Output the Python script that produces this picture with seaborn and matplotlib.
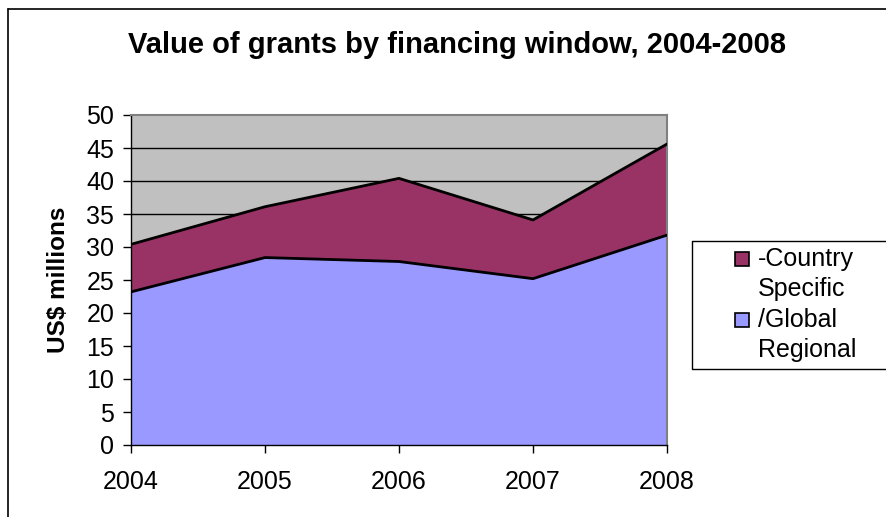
import matplotlib
matplotlib.use("Agg")
import matplotlib.pyplot as plt
import matplotlib.patches as mpatches
import matplotlib.lines as mlines
import pandas as pd
import seaborn as sns

years = [2004, 2005, 2006, 2007, 2008]
global_regional = [23.2, 28.4, 27.8, 25.2, 31.8]
country_specific = [7.2, 7.7, 12.6, 8.9, 13.8]
series_labels = ['-Country\nSpecific', '/Global\nRegional']
y_ticks = [0, 5, 10, 15, 20, 25, 30, 35, 40, 45, 50]

df = pd.DataFrame({'year': years,
                   'regional': global_regional,
                   'country': country_specific})
df['total'] = df['regional'] + df['country']

sns.set_style('white')
plt.rcParams['font.family'] = ['Liberation Sans', 'DejaVu Sans']
plt.rcParams['text.color'] = 'black'
plt.rcParams['axes.labelcolor'] = 'black'
plt.rcParams['xtick.color'] = 'black'
plt.rcParams['ytick.color'] = 'black'

col_regional = '#9999ff'
col_country = '#993366'
col_bg = '#c0c0c0'

W, H = 886, 517
fig = plt.figure(figsize=(W / 100, H / 100), dpi=100)
ax = fig.add_axes([131 / W, 1 - 445 / H, (667 - 131) / W, (445 - 115) / H])
ax.set_facecolor(col_bg)

for y in y_ticks[1:-1]:
    ax.axhline(y, color='black', lw=1, zorder=1)

ax.fill_between(df['year'], 0, df['regional'], color=col_regional, zorder=2, lw=0)
ax.fill_between(df['year'], df['regional'], df['total'], color=col_country, zorder=2, lw=0)
sns.lineplot(x='year', y='regional', data=df, color='black', lw=2, ax=ax, zorder=3)
sns.lineplot(x='year', y='total', data=df, color='black', lw=2, ax=ax, zorder=3)

ax.set_xlim(2004, 2008)
ax.set_ylim(0, 50)
ax.set_yticks(y_ticks)
ax.set_xticks(years)
ax.set_xticklabels([str(y) for y in years])
ax.tick_params(axis='both', labelsize=18, length=6, width=1, color='black',
               labelcolor='black', direction='out', bottom=True, left=True)
ax.tick_params(axis='x', pad=12)
ax.tick_params(axis='y', pad=6)
ax.set_xlabel('')
ax.set_ylabel('US$ millions', fontsize=17.5, fontweight='bold', labelpad=12,
              color='black')

for side in ['top', 'right']:
    ax.spines[side].set_color('#808080')
    ax.spines[side].set_linewidth(1.5)
for side in ['left', 'bottom']:
    ax.spines[side].set_color('black')
    ax.spines[side].set_linewidth(1)
    ax.spines[side].set_visible(True)

fig.text(457 / W, 1 - 45 / H, 'Value of grants by financing window, 2004-2008',
         ha='center', va='center', fontsize=21, fontweight='bold', color='black')

# legend box on the right, drawn by hand to match the wrapped Excel legend
# (its right edge runs off the picture, so only left/top/bottom are drawn)
lx, ltop, lbot = 692 / W, 1 - 241 / H, 1 - 369 / H
fig.add_artist(mlines.Line2D([1, lx, lx, 1], [ltop, ltop, lbot, lbot],
                             color='black', lw=1))
legend_colors = [col_country, col_regional]
for i, (label, color) in enumerate(zip(series_labels, legend_colors)):
    y0 = 259 + i * 61
    fig.add_artist(mpatches.Rectangle((735 / W, 1 - (y0 + 7) / H), 14 / W, 14 / H,
                                      transform=fig.transFigure, facecolor=color,
                                      edgecolor='black', lw=1.2))
    for j, line in enumerate(label.split('\n')):
        fig.text(758 / W, 1 - (y0 + j * 30) / H, line, ha='left', va='center',
                 fontsize=18, color='black')

# outer chart border (left and top only visible)
fig.add_artist(mlines.Line2D([8 / W, 8 / W], [0, 1 - 9 / H], color='black', lw=1.2))
fig.add_artist(mlines.Line2D([8 / W, 1], [1 - 9 / H, 1 - 9 / H], color='black', lw=1.2))

fig.savefig('out.png', dpi=100)
